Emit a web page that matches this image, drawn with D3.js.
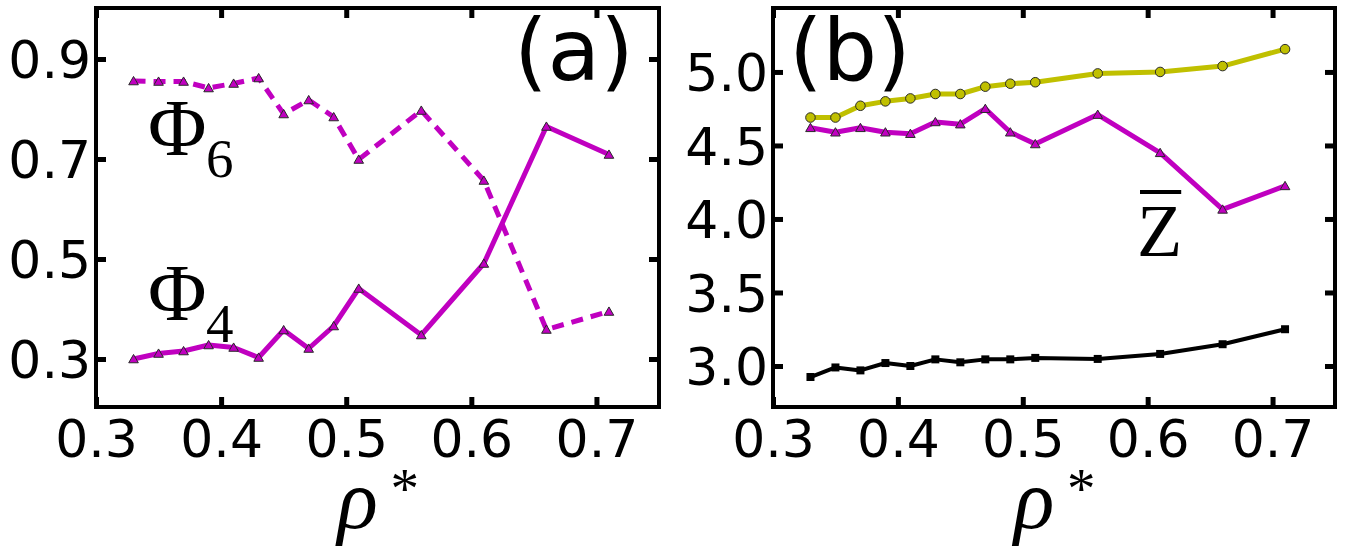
<!DOCTYPE html>
<html>
<head>
<meta charset="utf-8">
<script src="https://cdn.jsdelivr.net/npm/d3@7"></script>
<style>
  body { margin: 0; background: #fff; }
  svg { display: block; }
</style>
</head>
<body>
<svg id="chart"></svg>
<script>
const width = 1346;
const height = 560;

// density values shared by every series
const rho = [0.33, 0.35, 0.37, 0.39, 0.41, 0.43, 0.45, 0.47, 0.49, 0.51, 0.56, 0.61, 0.66, 0.71];

// panel (a)
const phi6 = [0.856, 0.855, 0.855, 0.842, 0.851, 0.862, 0.790, 0.818, 0.784, 0.699, 0.797, 0.657, 0.359, 0.395];
const phi4 = [0.300, 0.311, 0.316, 0.328, 0.323, 0.303, 0.358, 0.321, 0.366, 0.441, 0.348, 0.491, 0.765, 0.709];

// panel (b)
const zYellow = [4.69, 4.69, 4.77, 4.80, 4.82, 4.85, 4.85, 4.90, 4.92, 4.93, 4.99, 5.00, 5.04, 5.155];
const zMagenta = [4.62, 4.59, 4.62, 4.59, 4.58, 4.66, 4.645, 4.75, 4.59, 4.51, 4.71, 4.45, 4.065, 4.225];
const zBlack = [2.925, 2.99, 2.97, 3.02, 3.00, 3.045, 3.025, 3.045, 3.045, 3.055, 3.048, 3.082, 3.148, 3.25];

const xTicks = [0.3, 0.4, 0.5, 0.6, 0.7];
const yTicksA = [0.3, 0.5, 0.7, 0.9];
const yTicksB = [3.0, 3.5, 4.0, 4.5, 5.0];

const magenta = '#c000c0';
const olive = '#c0c000';

const svg = d3.select('#chart')
  .attr('width', width)
  .attr('height', height);

const plotTop = 8, plotBottom = 407;

function makePanel(x0, x1, yDomain, yTicks) {
  const x = d3.scaleLinear().domain([0.3, 0.75]).range([x0, x1]);
  const y = d3.scaleLinear().domain(yDomain).range([plotBottom, plotTop]);
  const g = svg.append('g');

  const fmt = d3.format('.1f');

  // axes with inward ticks, frame drawn separately
  const gx = g.append('g')
    .attr('transform', `translate(0, ${plotBottom})`)
    .call(d3.axisBottom(x).tickValues(xTicks).tickSize(-10).tickFormat(fmt));
  gx.selectAll('text').attr('y', 50).attr('dy', null);

  g.append('g')
    .attr('transform', `translate(0, ${plotTop})`)
    .call(d3.axisTop(x).tickValues(xTicks).tickSize(-10).tickFormat(''));

  const gy = g.append('g')
    .attr('transform', `translate(${x0}, 0)`)
    .call(d3.axisLeft(y).tickValues(yTicks).tickSize(-10).tickFormat(fmt));
  gy.selectAll('text').attr('x', -5).attr('dy', '0.36em');

  g.append('g')
    .attr('transform', `translate(${x1}, 0)`)
    .call(d3.axisRight(y).tickValues(yTicks).tickSize(-10).tickFormat(''));

  g.selectAll('.domain').remove();
  g.selectAll('.tick line').attr('stroke', '#000').attr('stroke-width', 5);
  g.selectAll('.tick text')
    .attr('fill', '#000')
    .style('font-family', '"DejaVu Sans", sans-serif')
    .style('font-size', '52px');

  g.append('rect')
    .attr('x', x0).attr('y', plotTop)
    .attr('width', x1 - x0).attr('height', plotBottom - plotTop)
    .attr('fill', 'none')
    .attr('stroke', '#000')
    .attr('stroke-width', 4);

  // x label rho*
  const cx = (x0 + x1) / 2;
  g.append('text')
    .attr('x', cx - 40).attr('y', 528)
    .style('font-family', '"Liberation Serif", serif')
    .style('font-style', 'italic')
    .style('font-size', '84px')
    .text('ρ');
  g.append('text')
    .attr('x', cx + 13).attr('y', 508)
    .style('font-family', '"Liberation Serif", serif')
    .style('font-size', '57px')
    .text('*');

  return {g, x, y};
}

function drawSeries(p, values, color, lw, dash, marker) {
  const pts = rho.map((r, i) => [r, values[i]]);
  const line = d3.line().x(d => p.x(d[0])).y(d => p.y(d[1]));
  p.g.append('path')
    .datum(pts)
    .attr('d', line)
    .attr('fill', 'none')
    .attr('stroke', color)
    .attr('stroke-width', lw)
    .attr('stroke-dasharray', dash)
    .attr('stroke-linejoin', 'round');

  const sym = marker === 'triangle' ? d3.symbolTriangle
    : marker === 'circle' ? d3.symbolCircle : d3.symbolSquare;
  const size = marker === 'triangle' ? 40 : marker === 'circle' ? 72 : 64;
  p.g.append('g').selectAll('path')
    .data(pts)
    .enter()
    .append('path')
    .attr('d', d3.symbol().type(sym).size(size))
    .attr('transform', d => `translate(${p.x(d[0])}, ${p.y(d[1]) + (marker === 'triangle' ? 1 : 0)})`)
    .attr('fill', color)
    .attr('stroke', marker === 'square' ? 'none' : '#2a2a2a')
    .attr('stroke-width', 1);
}

// panel (a)
const pa = makePanel(96, 659, [0.204, 1.002], yTicksA);
drawSeries(pa, phi6, magenta, 5, '12,8', 'triangle');
drawSeries(pa, phi4, magenta, 5, null, 'triangle');

pa.g.append('text')
  .attr('x', 514).attr('y', 80)
  .style('font-family', '"DejaVu Sans", sans-serif')
  .style('font-size', '86px')
  .text('(a)');

function phiLabel(g, sub, base) {
  g.append('text')
    .attr('x', 148).attr('y', base)
    .style('font-family', '"Liberation Serif", serif')
    .style('font-size', '80px')
    .text('Φ');
  g.append('text')
    .attr('x', 206).attr('y', base + 22)
    .style('font-family', '"Liberation Serif", serif')
    .style('font-size', '55px')
    .text(sub);
}
phiLabel(pa.g, '6', 155);
phiLabel(pa.g, '4', 320);

// panel (b)
const pb = makePanel(773, 1335, [2.721, 5.435], yTicksB);
drawSeries(pb, zYellow, olive, 5, null, 'circle');
drawSeries(pb, zMagenta, magenta, 5, null, 'triangle');
drawSeries(pb, zBlack, '#000', 4, null, 'square');

pb.g.append('text')
  .attr('x', 789).attr('y', 80)
  .style('font-family', '"DejaVu Sans", sans-serif')
  .style('font-size', '86px')
  .text('(b)');

const zText = pb.g.append('text')
  .attr('x', 1137).attr('y', 256)
  .style('font-family', '"Liberation Serif", serif')
  .style('font-size', '74px')
  .text('Z');
const zb = zText.node().getBBox();
pb.g.append('rect')
  .attr('x', zb.x + 3).attr('y', 190)
  .attr('width', zb.width - 4).attr('height', 4)
  .attr('fill', '#000');
</script>
</body>
</html>
